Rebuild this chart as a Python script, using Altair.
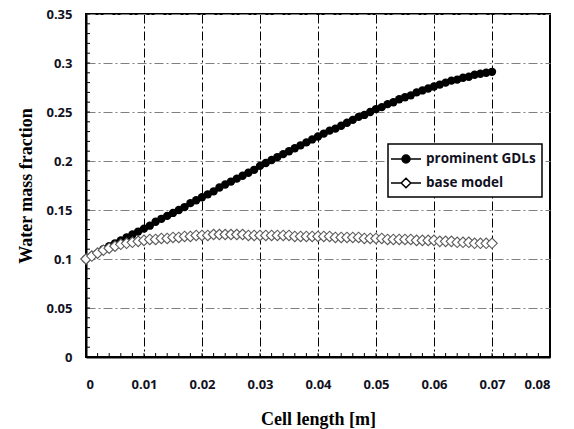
import altair as alt
import pandas as pd

# sample positions along the cell [m]
cell_x = [0.000, 0.001, 0.002, 0.003, 0.004, 0.005, 0.006, 0.007, 0.008, 0.009,
          0.010, 0.011, 0.012, 0.013, 0.014, 0.015, 0.016, 0.017, 0.018, 0.019,
          0.020, 0.021, 0.022, 0.023, 0.024, 0.025, 0.026, 0.027, 0.028, 0.029,
          0.030, 0.031, 0.032, 0.033, 0.034, 0.035, 0.036, 0.037, 0.038, 0.039,
          0.040, 0.041, 0.042, 0.043, 0.044, 0.045, 0.046, 0.047, 0.048, 0.049,
          0.050, 0.051, 0.052, 0.053, 0.054, 0.055, 0.056, 0.057, 0.058, 0.059,
          0.060, 0.061, 0.062, 0.063, 0.064, 0.065, 0.066, 0.067, 0.068, 0.069,
          0.070]

prominent = [0.100, 0.103, 0.106, 0.110, 0.113, 0.116, 0.119, 0.122, 0.125, 0.128,
             0.131, 0.134, 0.138, 0.141, 0.144, 0.147, 0.150, 0.153, 0.157, 0.160,
             0.163, 0.166, 0.169, 0.173, 0.176, 0.179, 0.182, 0.185, 0.188, 0.191,
             0.195, 0.198, 0.201, 0.204, 0.207, 0.210, 0.213, 0.216, 0.219, 0.222,
             0.225, 0.228, 0.231, 0.233, 0.236, 0.239, 0.242, 0.245, 0.247, 0.250,
             0.253, 0.255, 0.258, 0.260, 0.263, 0.265, 0.267, 0.270, 0.272, 0.274,
             0.276, 0.278, 0.280, 0.282, 0.283, 0.285, 0.286, 0.288, 0.289, 0.290,
             0.291]

base = [0.100, 0.103, 0.106, 0.109, 0.111, 0.113, 0.115, 0.116, 0.117, 0.118,
        0.119, 0.120, 0.120, 0.121, 0.121, 0.122, 0.122, 0.123, 0.123, 0.124,
        0.124, 0.124, 0.125, 0.125, 0.125, 0.125, 0.125, 0.125, 0.124, 0.124,
        0.124, 0.124, 0.124, 0.124, 0.124, 0.124, 0.123, 0.123, 0.123, 0.123,
        0.123, 0.123, 0.123, 0.122, 0.122, 0.122, 0.122, 0.122, 0.121, 0.121,
        0.121, 0.121, 0.120, 0.120, 0.120, 0.120, 0.120, 0.119, 0.119, 0.119,
        0.119, 0.118, 0.118, 0.118, 0.117, 0.117, 0.117, 0.116, 0.116, 0.116,
        0.116]

series_names = ["prominent GDLs", "base model"]
x_major = [0, 0.01, 0.02, 0.03, 0.04, 0.05, 0.06, 0.07, 0.08]
y_major = [0, 0.05, 0.1, 0.15, 0.2, 0.25, 0.3, 0.35]
x_minor = [i * 0.002 for i in range(41)]
y_minor = [i * 0.01 for i in range(36)]

W, H = 464, 343
LABEL_FONT = "Open Sans"
TITLE_FONT = "Liberation Serif"
TXT = "#111122"

df_p = pd.DataFrame({"x": cell_x, "y": prominent})
df_b = pd.DataFrame({"x": cell_x, "y": base})
df_xt = pd.DataFrame({"t": x_minor})
df_yt = pd.DataFrame({"t": y_minor})
df_leg = pd.DataFrame({"series": series_names})

xscale = alt.Scale(domain=[0, 0.08], nice=False, zero=False)
yscale = alt.Scale(domain=[0, 0.35], nice=False, zero=False)

x_axis = alt.Axis(
    values=x_major, title="Cell length [m]",
    labelExpr="datum.value == 0 ? '0' : format(datum.value, '.2f')",
    grid=True, gridColor="#000000", gridDash=[9, 3, 2, 3], gridWidth=1,
    ticks=False, domainColor="#000000", domainWidth=2,
    labelFont=LABEL_FONT, labelFontSize=13, labelFontWeight="bold", labelColor=TXT,
    labelPadding=21, titleFont=TITLE_FONT, titleFontSize=18, titleFontWeight="bold",
    titleColor="#000000", titlePadding=19,
)
y_axis = alt.Axis(
    values=y_major, title="Water mass fraction",
    labelExpr="format(datum.value, '~g')",
    grid=True, gridColor="#808080", gridDash=[9, 3, 2, 3], gridWidth=1,
    ticks=False, domainColor="#000000", domainWidth=2,
    labelFont=LABEL_FONT, labelFontSize=13, labelFontWeight="bold", labelColor=TXT,
    labelPadding=14, titleFont=TITLE_FONT, titleFontSize=18, titleFontWeight="bold",
    titleColor="#000000", titlePadding=10,
)

xticks = alt.Chart(df_xt).mark_rule(color="#000000", strokeWidth=1).encode(
    x=alt.X("t:Q", scale=xscale, axis=x_axis),
    y=alt.value(H), y2=alt.value(H - 4),
)
yticks = alt.Chart(df_yt).mark_rule(color="#000000", strokeWidth=1).encode(
    y=alt.Y("t:Q", scale=yscale, axis=y_axis),
    x=alt.value(0), x2=alt.value(4),
)

line_p = alt.Chart(df_p).mark_line(color="#000000", strokeWidth=1.5).encode(
    x=alt.X("x:Q", scale=xscale), y=alt.Y("y:Q", scale=yscale))
pts_p = alt.Chart(df_p).mark_point(shape="circle", filled=True, color="#000000",
                                   size=70, opacity=1).encode(
    x=alt.X("x:Q", scale=xscale), y=alt.Y("y:Q", scale=yscale))
line_b = alt.Chart(df_b).mark_line(color="#000000", strokeWidth=1).encode(
    x=alt.X("x:Q", scale=xscale), y=alt.Y("y:Q", scale=yscale))
pts_b = alt.Chart(df_b).mark_point(shape="diamond", filled=True, fill="#ffffff",
                                   stroke="#5a5a5a", strokeWidth=1.1, size=110,
                                   opacity=1).encode(
    x=alt.X("x:Q", scale=xscale), y=alt.Y("y:Q", scale=yscale))

path_circle = "M-1.875,0L-0.5,0M0.5,0L1.875,0M0.5,0A0.5,0.5,0,1,1,-0.5,0A0.5,0.5,0,1,1,0.5,0Z"
path_diamond = "M-1.875,0L-0.6,0M0.6,0L1.875,0M0.6,0L0,0.6L-0.6,0L0,-0.6Z"

leg = alt.Legend(title=None, orient="none", legendX=302, legendY=130,
                 symbolStrokeWidth=1.5, symbolOpacity=1)
legend_layer = alt.Chart(df_leg).mark_point(filled=True, opacity=0).encode(
    shape=alt.Shape("series:N", scale=alt.Scale(domain=series_names,
                                                range=[path_circle, path_diamond]),
                    legend=leg),
    fill=alt.Fill("series:N", scale=alt.Scale(domain=series_names,
                                              range=["#000000", "#ffffff"]),
                  legend=leg),
    stroke=alt.Stroke("series:N", scale=alt.Scale(domain=series_names,
                                                  range=["#000000", "#000000"]),
                      legend=leg),
)

chart = alt.layer(xticks, yticks, line_p, pts_p, line_b, pts_b, legend_layer).properties(
    width=W, height=H,
    autosize=alt.AutoSizeParams(type="none"),
    padding={"left": 86, "top": 14, "right": 24, "bottom": 72},
).configure_view(
    stroke="#000000", strokeWidth=2
).configure_legend(
    strokeColor="#000000", strokeWidth=1.5, fillColor="#ffffff",
    padding=6, rowPadding=8, symbolSize=256, symbolOffset=3,
    labelFont=LABEL_FONT, labelFontSize=13.5, labelFontWeight="bold",
    labelColor=TXT, labelOffset=11,
)

chart.save("out.html", embed_options={"renderer": "svg", "actions": False})
